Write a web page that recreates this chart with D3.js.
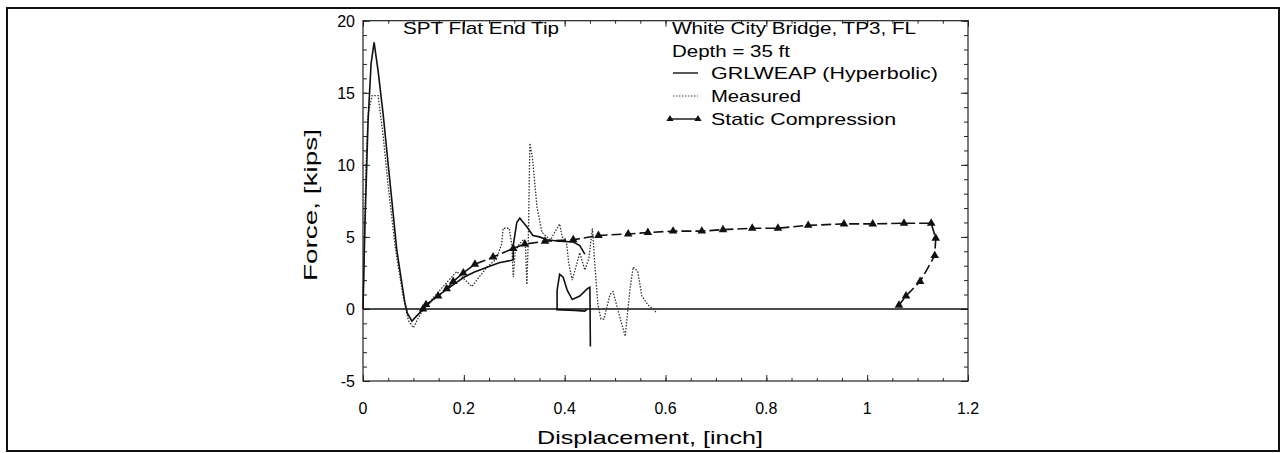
<!DOCTYPE html>
<html><head><meta charset="utf-8">
<script src="https://cdn.jsdelivr.net/npm/d3@7"></script>
<style>
body{margin:0;background:#fff}
text{font-family:"Liberation Sans",Arial,Helvetica,sans-serif;fill:#000}
</style>
</head><body>
<svg id="c" width="1283" height="453"></svg>
<script>
// ---- data ----
const xTicks = [0, 0.2, 0.4, 0.6, 0.8, 1, 1.2];
const xTickLabels = ["0", "0.2", "0.4", "0.6", "0.8", "1", "1.2"];
const yTicks = [-5, 0, 5, 10, 15, 20];
const yTickLabels = ["-5", "0", "5", "10", "15", "20"];

// GRLWEAP (Hyperbolic) - NaN separates pieces
const grlDisp = [0,0.004,0.01,0.016,0.022,0.03,0.04,0.048,0.057,0.067,0.077,0.083,0.088,0.097,0.106,0.12,0.14,0.16,0.18,0.2,0.22,0.246,0.27,0.298,
  0.298,0.305,0.311,0.318,0.325,0.337,0.35,0.365,0.39,0.417,0.43,0.44,
  NaN,
  0.385,0.385,0.39,0.397,0.405,0.415,0.43,0.445,0.45,0.451,
  NaN,
  0.383,0.42,0.44,0.445];
const grlForce = [0,6,13,17,18.5,16.5,13.5,10.7,7.6,4.1,1.8,0.45,-0.3,-0.85,-0.5,0,0.7,1.2,1.7,2.2,2.55,2.9,3.2,3.4,
  4.4,6.0,6.3,6.0,5.7,5.1,5.0,4.8,4.7,4.65,4.4,3.8,
  NaN,
  0,1.3,2.4,2.2,1.3,0.65,0.9,1.4,1.5,-2.6,
  NaN,
  -0.05,-0.1,-0.15,0];

// Measured
const measDisp = [0,0.003,0.006,0.01,0.018,0.03,0.04,0.05,0.065,0.08,0.09,0.1,0.11,0.12,0.14,0.16,0.186,0.2,0.216,0.23,0.246,0.265,0.275,0.278,0.29,0.295,0.298,0.302,0.31,0.318,0.322,0.325,0.328,0.331,0.336,0.345,0.355,0.365,0.372,0.38,0.39,0.395,0.403,0.408,0.415,0.43,0.44,0.448,0.455,0.46,0.466,0.472,0.478,0.49,0.496,0.505,0.52,0.53,0.536,0.545,0.553,0.565,0.575,0.583];
const measForce = [0,5,10,13.5,14.8,14.8,12,8.5,4,0.8,-0.8,-1.3,-0.6,0,0.8,1.6,2.6,2.1,1.55,2.2,2.9,3.5,4.5,5.6,5.6,4.5,2.2,4.0,4.5,4.8,4.6,1.7,5,11.5,10.5,7.1,5.3,5.0,4.8,5.3,5.9,5.0,4.8,3.2,2.0,3.9,2.7,3.5,5.6,3.0,0.3,-0.7,-0.7,1.0,1.2,0,-1.9,1.5,2.9,2.6,0.9,0.3,0,-0.3];

// Static Compression
const statDisp = [0.119,0.125,0.149,0.166,0.179,0.199,0.222,0.258,0.298,0.321,0.361,0.417,0.467,0.526,0.565,0.615,0.672,0.714,0.772,0.823,0.883,0.954,1.011,1.073,1.127,1.136,1.134,1.105,1.077,1.063];
const statForce = [0,0.3,0.9,1.4,1.9,2.5,3.1,3.6,4.2,4.5,4.7,4.8,5.1,5.2,5.3,5.4,5.4,5.5,5.6,5.6,5.8,5.9,5.9,5.95,5.95,4.9,3.7,1.9,0.9,0.25];

// ---- layout ----
const svg = d3.select("#c");
const L = 363, R = 968, T = 20.7, B = 381;
const x = d3.scaleLinear().domain([0, 1.2]).range([L, R]);
const y = d3.scaleLinear().domain([-5, 20]).range([B, T]);

// outer border
svg.append("rect").attr("x", 7).attr("y", 8).attr("width", 1272).attr("height", 443)
  .attr("fill", "none").attr("stroke", "#111").attr("stroke-width", 2);

// plot frame
svg.append("rect").attr("x", L).attr("y", T).attr("width", R - L).attr("height", B - T)
  .attr("fill", "none").attr("stroke", "#222").attr("stroke-width", 1.2);

// ticks (inward) via axes
const minorY = d3.range(-5, 20.01, 1);
const minorX = d3.range(0, 1.2001, 0.05);
function styleAxis(g){ g.select(".domain").remove(); g.selectAll("line").attr("stroke","#222"); g.selectAll("text").remove(); }
svg.append("g").attr("transform", `translate(${L},0)`).call(d3.axisRight(y).tickValues(minorY).tickSize(4)).call(styleAxis);
svg.append("g").attr("transform", `translate(${L},0)`).call(d3.axisRight(y).tickValues(yTicks).tickSize(7)).call(styleAxis);
svg.append("g").attr("transform", `translate(${R},0)`).call(d3.axisLeft(y).tickValues(minorY).tickSize(4)).call(styleAxis);
svg.append("g").attr("transform", `translate(${R},0)`).call(d3.axisLeft(y).tickValues(yTicks).tickSize(7)).call(styleAxis);
svg.append("g").attr("transform", `translate(0,${B})`).call(d3.axisTop(x).tickValues(minorX).tickSize(3)).call(styleAxis);
svg.append("g").attr("transform", `translate(0,${B})`).call(d3.axisTop(x).tickValues(xTicks).tickSize(6)).call(styleAxis);
svg.append("g").attr("transform", `translate(0,${T})`).call(d3.axisBottom(x).tickValues(minorX).tickSize(3)).call(styleAxis);
svg.append("g").attr("transform", `translate(0,${T})`).call(d3.axisBottom(x).tickValues(xTicks).tickSize(6)).call(styleAxis);

// tick labels
svg.append("g").selectAll("text").data(yTicks).join("text")
  .attr("x", 355).attr("y", d => y(d) + 6).attr("text-anchor", "end")
  .attr("font-size", 16).text((d, i) => yTickLabels[i]);
svg.append("g").selectAll("text").data(xTicks).join("text")
  .attr("x", d => x(d)).attr("y", 414).attr("text-anchor", "middle")
  .attr("font-size", 16).text((d, i) => xTickLabels[i]);

// axis titles
svg.append("text").attr("transform", "translate(317,205) rotate(-90)").attr("text-anchor", "middle")
  .attr("font-size", 19).attr("textLength", 152).attr("lengthAdjust", "spacingAndGlyphs").text("Force, [kips]");
svg.append("text").attr("x", 650).attr("y", 444).attr("text-anchor", "middle")
  .attr("font-size", 19).attr("textLength", 226).attr("lengthAdjust", "spacingAndGlyphs").text("Displacement, [inch]");

// zero line
svg.append("line").attr("x1", x(0)).attr("x2", x(1.2)).attr("y1", y(0)).attr("y2", y(0))
  .attr("stroke", "#111").attr("stroke-width", 1.6);

// series
const pts = (xs, ys) => xs.map((d, i) => ({d, f: ys[i]}));
const line = d3.line().defined(p => !isNaN(p.d) && !isNaN(p.f)).x(p => x(p.d)).y(p => y(p.f));

svg.append("path").datum(pts(measDisp, measForce)).attr("d", line)
  .attr("fill", "none").attr("stroke", "#333").attr("stroke-width", 1.3).attr("stroke-dasharray", "1.5,1.5");
svg.append("path").datum(pts(grlDisp, grlForce)).attr("d", line)
  .attr("fill", "none").attr("stroke", "#111").attr("stroke-width", 1.6);
svg.append("path").datum(pts(statDisp, statForce)).attr("d", line)
  .attr("fill", "none").attr("stroke", "#111").attr("stroke-width", 1.6).attr("stroke-dasharray", "10,4");
const tri = d3.symbol().type(d3.symbolTriangle).size(32);
svg.append("g").selectAll("path").data(pts(statDisp, statForce)).join("path")
  .attr("transform", p => `translate(${x(p.d)},${y(p.f)})`).attr("d", tri).attr("fill", "#111");

// annotations
svg.append("text").attr("x", 403).attr("y", 34).attr("font-size", 17)
  .attr("textLength", 156).attr("lengthAdjust", "spacingAndGlyphs").text("SPT Flat End Tip");
svg.append("text").attr("x", 672).attr("y", 34).attr("font-size", 17)
  .attr("textLength", 244).attr("lengthAdjust", "spacingAndGlyphs").text("White City Bridge, TP3, FL");
svg.append("text").attr("x", 672).attr("y", 57).attr("font-size", 17)
  .attr("textLength", 118).attr("lengthAdjust", "spacingAndGlyphs").text("Depth = 35 ft");

// legend
const legNames = ["GRLWEAP (Hyperbolic)", "Measured", "Static Compression"];
const legLens = [227, 90, 185];
const legY = [73, 96, 119];
legNames.forEach((n, i) => {
  svg.append("text").attr("x", 711).attr("y", legY[i] + 6).attr("font-size", 17)
    .attr("textLength", legLens[i]).attr("lengthAdjust", "spacingAndGlyphs").text(n);
});
svg.append("line").attr("x1", 673).attr("x2", 698).attr("y1", legY[0]).attr("y2", legY[0]).attr("stroke", "#111").attr("stroke-width", 1.4);
svg.append("line").attr("x1", 673).attr("x2", 698).attr("y1", legY[1]).attr("y2", legY[1]).attr("stroke", "#444").attr("stroke-width", 1.2).attr("stroke-dasharray", "1.5,1.5");
svg.append("line").attr("x1", 670).attr("x2", 698).attr("y1", legY[2]).attr("y2", legY[2]).attr("stroke", "#111").attr("stroke-width", 1.4);
[670, 698].forEach(px => svg.append("path").attr("transform", `translate(${px},${legY[2]})`).attr("d", d3.symbol().type(d3.symbolTriangle).size(22)).attr("fill", "#111"));
</script>
</body></html>
